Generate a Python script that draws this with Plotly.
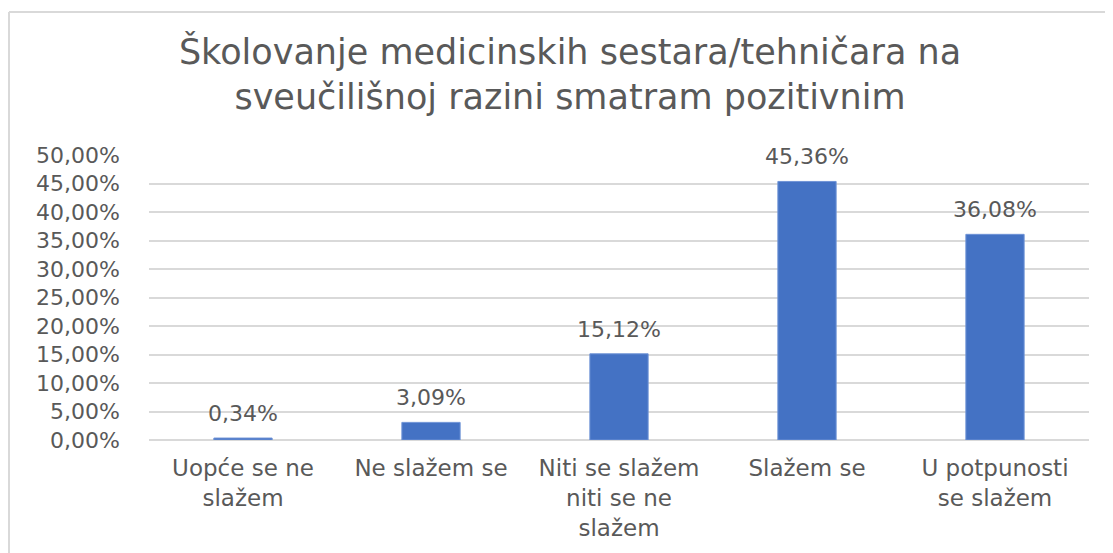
import plotly.graph_objects as go

categories = ["Uopće se ne<br>slažem", "Ne slažem se", "Niti se slažem<br>niti se ne<br>slažem", "Slažem se", "U potpunosti<br>se slažem"]
values = [0.34, 3.09, 15.12, 45.36, 36.08]
tick_vals = [0, 5, 10, 15, 20, 25, 30, 35, 40, 45, 50]
tick_text = [f"{v:.2f}%".replace(".", ",") for v in tick_vals]
title_text = "Školovanje medicinskih sestara/tehničara na<br>sveučilišnoj razini smatram pozitivnim"

FONT = "DejaVu Sans"
GREY = "#595959"

W, H = 1105, 545
L, R, T, B = 141, 24, 147, 113
PW, PH = W - L - R, H - T - B

fig = go.Figure()
fig.add_trace(go.Bar(
    x=categories, y=values,
    marker=dict(color="#4472C4", line=dict(color="#6f93d6", width=1)),
    width=0.31,
    hoverinfo="skip",
))

for c, v in zip(categories, values):
    fig.add_annotation(
        x=c, y=v, xref="x", yref="y",
        text=f"{v:.2f}%".replace(".", ","),
        showarrow=False, yanchor="bottom", yshift=10,
        font=dict(family=FONT, size=22, color=GREY),
    )

fig.update_layout(
    width=W, height=H,
    margin=dict(l=L, r=R, t=T, b=B),
    paper_bgcolor="white", plot_bgcolor="white",
    showlegend=False,
    title=dict(
        text=title_text, x=(570 - 8) / W, xanchor="center",
        y=0.898, yanchor="top", yref="container",
        font=dict(family=FONT, size=35, color=GREY),
    ),
    font=dict(family=FONT, color=GREY),
)
fig.update_yaxes(
    range=[0, 50], tickvals=tick_vals, ticktext=tick_text,
    showgrid=True, gridcolor="#d9d9d9", gridwidth=1.5,
    zeroline=True, zerolinecolor="#d9d9d9", zerolinewidth=1.5,
    showline=False, ticks="", ticklabelstandoff=28,
    tickfont=dict(family=FONT, size=22, color=GREY),
    fixedrange=True,
)
fig.update_xaxes(
    showgrid=False, showline=False, ticks="",
    tickfont=dict(family=FONT, size=23, color=GREY),
    tickangle=0, ticklabelstandoff=12,
    fixedrange=True,
)
# chart area border (left & top edges visible)
bx = (1 - L) / PW
by = (PH + T - 4) / PH
fig.add_shape(type="line", xref="paper", yref="paper",
              x0=bx, x1=(W - L) / PW + 0.05, y0=by, y1=by,
              line=dict(color="#d9d9d9", width=2))
fig.add_shape(type="line", xref="paper", yref="paper",
              x0=bx, x1=bx, y0=by, y1=-B / PH - 0.05,
              line=dict(color="#d9d9d9", width=2))

fig.write_html("out.html")
